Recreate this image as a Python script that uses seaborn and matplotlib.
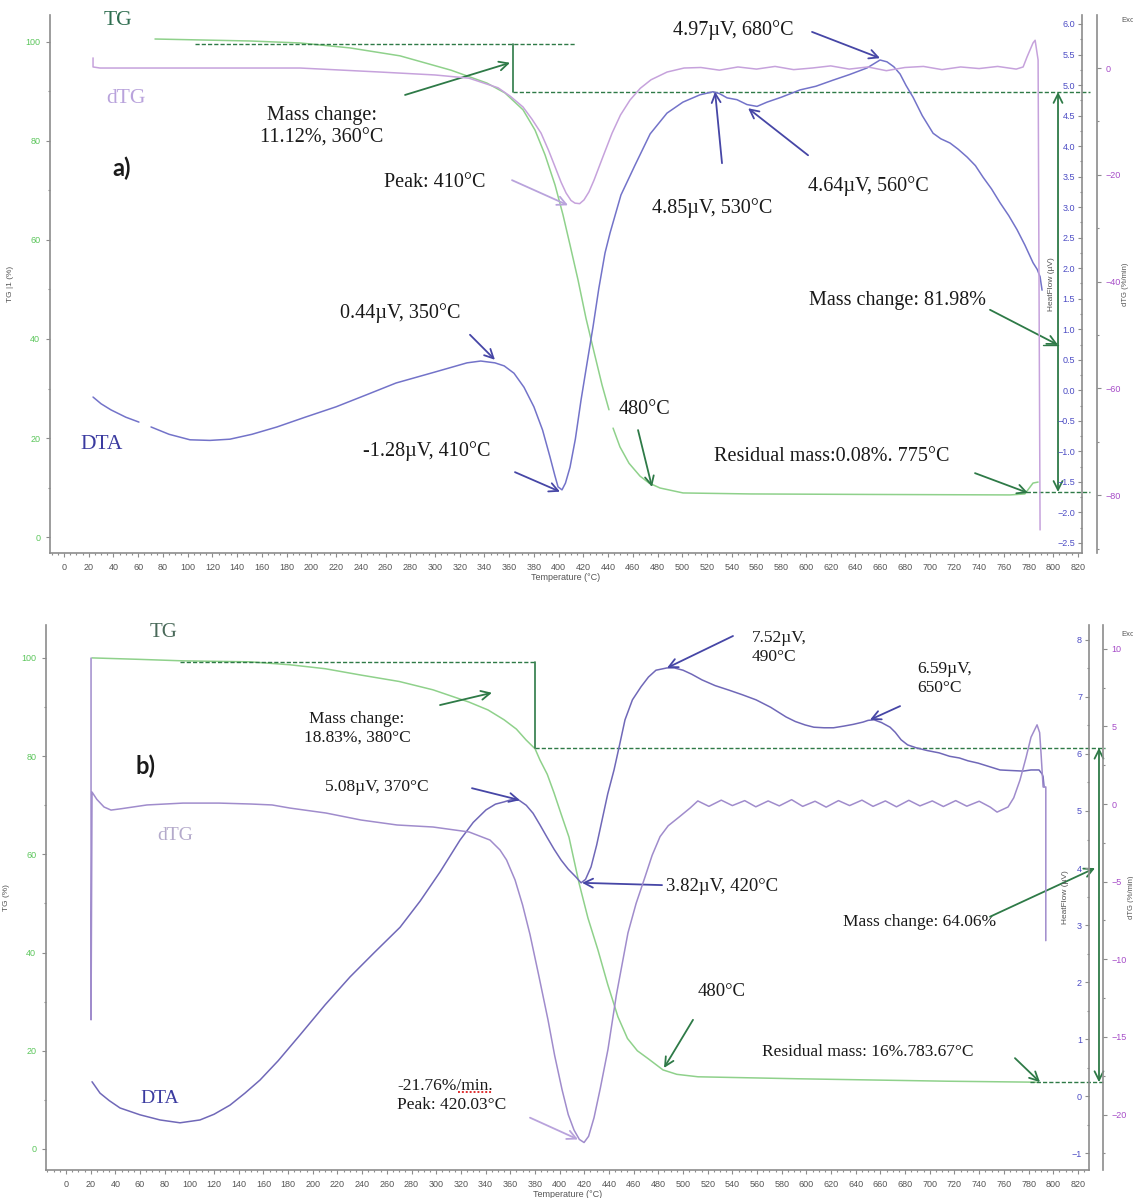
import matplotlib
matplotlib.use("Agg")
import matplotlib.pyplot as plt
from matplotlib.ticker import MultipleLocator
import seaborn as sns

sns.set_theme(style="white")
plt.rcParams["font.family"] = ["DejaVu Sans"]

SERIF = "Liberation Serif"
TICKFONT = "Liberation Sans"

# ---------------------------------------------------------------- colours
C_TG = "#8fd18b"
C_TG_TICK = "#5cc65c"
C_DTG_A = "#c6a2dc"
C_DTG_B = "#a08ccc"
C_DTA_A = "#7373c9"
C_DTA_B = "#7068b8"
C_HF_TICK = "#4c4cc4"
C_DTG_TICK = "#a64cc8"
C_ANN_G = "#2e7a47"
C_ANN_B = "#4646a6"
C_ANN_P = "#b9a3dc"
C_SPINE = "#8c8c8c"
C_TEXT = "#1a1a1a"

# ================================================================ sample a
# TG (%) vs temperature (°C); the trace has a short break near 442 °C
tg_a_T1 = [73.6, 150.4, 190.9, 231.3, 271.7, 313.0, 342.0, 356.6, 371.2, 380.9,
           389.0, 397.1, 403.5, 409.2, 415.7, 422.1, 428.6, 435.1, 440.7]
tg_a_1 = [100.6, 100.2, 99.8, 98.8, 97.2, 94.3, 91.7, 89.7, 86.3, 82.2,
          77.2, 71.1, 65.1, 59.0, 51.9, 44.2, 37.4, 30.7, 25.7]
tg_a_T2 = [444.0, 449.6, 456.9, 465.8, 473.1, 482.0, 500.6, 554.8, 650.0,
           765.0, 777.0, 783.6, 787.7]
tg_a_2 = [22.0, 18.2, 14.9, 12.3, 10.9, 9.9, 8.9, 8.7, 8.6,
          8.5, 8.7, 10.9, 11.1]

# dTG (%/min)
dtg_a_T = [23.5, 23.5, 29.1, 110.0, 190.9, 255.5, 300.0, 327.5, 351.0, 361.0,
           371.2, 378.5, 385.8, 392.0, 397.1, 402.0, 406.0, 410.0, 413.2, 417.0,
           420.5, 424.5, 428.6, 436.0, 443.2, 450.0, 457.7, 466.0, 474.7, 487.7,
           501.4, 515, 530, 545, 560, 575, 590, 605, 620, 635,
           650, 665, 680, 695, 710, 725, 740, 755, 770, 775.6,
           778.8, 783.6, 785.3, 787.7, 788.5, 789.3]
dtg_a = [1.9, 0.2, 0.0, 0.0, 0.0, -0.75, -1.3, -1.9, -3.7, -5.3,
         -7.3, -9.6, -12.2, -15.5, -18.5, -21.4, -23.4, -24.8, -25.3, -25.4,
         -24.7, -23.2, -21.0, -16.5, -12.2, -8.8, -6.0, -3.8, -2.2, -0.75,
         0.0, 0.1, -0.4, 0.2, -0.2, 0.3, -0.3, 0.0, 0.4, -0.2,
         0.2, -0.5, 0.1, 0.3, -0.3, 0.2, -0.1, 0.3, -0.2, 0.2,
         2.1, 4.7, 5.2, 1.5, -43.4, -86.5]

# DTA heat flow (µV); the trace has a short break near 65 °C
dta_a_T1 = [23.5, 30.0, 38.0, 50.0, 60.6]
dta_a_1 = [-0.11, -0.22, -0.32, -0.44, -0.52]
dta_a_T2 = [70.4, 85, 101.9, 118, 134.2, 152, 172.2, 195, 220, 245,
            268.5, 300, 325.9, 337, 348.5, 356, 363.9, 372, 380, 387,
            393, 397, 399.5, 402.7, 405.5, 409.2, 413.5, 418.1, 423, 427.8,
            432.5, 437.5, 441.6, 450.4, 461.8, 474, 487.6, 500.5, 514.3, 524.8,
            530, 536.2, 544.2, 552.3, 560.4, 568.5, 580, 595.2, 608, 621.9,
            635, 649.4, 659.9, 665.5, 671, 676.1, 681, 686.6, 694, 702.8,
            709, 716.5, 723, 730.3, 737, 743.2, 750, 757, 764, 770.7,
            777, 783.6, 787, 789.3, 790.9]
dta_a_2 = [-0.60, -0.72, -0.81, -0.82, -0.80, -0.72, -0.60, -0.44, -0.27, -0.07,
           0.12, 0.30, 0.45, 0.48, 0.45, 0.40, 0.28, 0.05, -0.27, -0.65,
           -1.09, -1.40, -1.58, -1.63, -1.52, -1.26, -0.80, -0.16, 0.45, 1.04,
           1.67, 2.25, 2.58, 3.20, 3.69, 4.20, 4.54, 4.72, 4.84, 4.89,
           4.86, 4.79, 4.76, 4.68, 4.65, 4.72, 4.80, 4.92, 4.98, 5.08,
           5.17, 5.28, 5.41, 5.38, 5.30, 5.18, 4.99, 4.80, 4.50, 4.21,
           4.12, 4.05, 3.95, 3.82, 3.68, 3.49, 3.30, 3.07, 2.86, 2.63,
           2.38, 2.09, 1.98, 1.86, 1.64]

# ================================================================ sample b
tg_b_T = [21.1, 60, 94.8, 149.1, 181.5, 210, 239.1, 270, 297.4, 326.6,
          342, 355, 365, 372.8, 380.1, 384.1, 390, 395.5, 401.5, 407.6,
          415.7, 423, 431.1, 439, 447.3, 455, 463, 471.7, 483.8, 495,
          512.2, 592.4, 714, 786.1]
tg_b = [100.0, 99.7, 99.4, 99.2, 98.6, 97.8, 96.5, 95.2, 93.5, 91.0,
        89.4, 87.4, 85.5, 83.3, 81.5, 79.2, 76.3, 72.5, 68.0, 63.5,
        54.2, 47.0, 40.5, 33.5, 26.9, 22.5, 20.0, 18.4, 16.1, 15.2,
        14.7, 14.3, 13.8, 13.6]

dtg_b_T = [20.3, 20.3, 21.1, 25, 30.8, 36.5, 45, 65.6, 94.8, 124,
           150, 167, 181.5, 210.7, 239.1, 268.3, 297.4, 326.6, 343.6, 351.7,
           357, 363.9, 370, 376, 383, 390.6, 396, 402, 407, 411.7,
           416, 419.8, 423.5, 427.9, 433, 439.2, 446, 455.4, 462, 469.2,
           475, 481.4, 488, 496.8, 505.7,
           512, 521, 531, 540, 550, 559, 569, 578, 588, 597,
           607, 616, 626, 635, 645, 654, 664, 673, 683, 692,
           702, 711, 721, 730, 740, 749,
           754.5, 763.4, 768, 773.1, 778, 782, 786.9, 789, 790.1, 791.8,
           794, 794]
dtg_b = [9.4, -13.9, 0.77, 0.3, -0.19, -0.39, -0.3, -0.06, 0.06, 0.06,
         0.0, -0.06, -0.26, -0.58, -1.03, -1.35, -1.48, -1.80, -2.32, -2.96,
         -3.6, -4.89, -6.5, -8.4, -11.0, -13.9, -16.2, -18.4, -20.0, -21.0,
         -21.6, -21.8, -21.4, -20.2, -18.3, -15.8, -12.3, -8.3, -6.4, -4.7,
         -3.3, -2.1, -1.4, -0.84, -0.26,
         0.20, -0.15, 0.25, -0.10, 0.22, -0.18, 0.20, -0.12, 0.28, -0.15,
         0.18, -0.20, 0.22, -0.10, 0.25, -0.15, 0.20, -0.18, 0.24, -0.12,
         0.20, -0.16, 0.22, -0.14, 0.18, -0.20,
         -0.52, -0.19, 0.4, 1.55, 3.0, 4.3, 5.1, 4.6, 3.3, 1.1,
         1.1, -8.8]

dta_b_T = [21.1, 27.6, 35, 43.8, 60, 76.2, 92.4, 108.6, 120, 132.9,
           145, 157.2, 172, 189.6, 210, 230.2, 250, 270.7, 287, 303.1,
           319.3, 330, 340.4, 348, 355, 361, 367.1, 373, 378.5, 384,
           389.8, 395.5, 401.2, 407, 413.3, 417.4, 421, 425.5, 430, 434.4,
           439, 444.1, 448.5, 453, 459, 466, 472, 478.1, 487, 493,
           500, 507, 515.4, 526, 537.3, 548, 559.2, 571, 583.5, 591,
           598.9, 606, 614.3, 622, 630.5, 638, 645.9, 650, 654.8, 661,
           667.8, 672, 676.7, 682, 688.8, 698, 707.5, 716, 724, 731,
           739.1, 748, 756.9, 766, 775.6, 782, 788.5, 791, 791.8, 792.6]
dta_b = [0.25, 0.05, -0.08, -0.21, -0.33, -0.42, -0.47, -0.42, -0.32, -0.16,
         0.05, 0.28, 0.62, 1.07, 1.60, 2.09, 2.52, 2.96, 3.42, 3.93,
         4.49, 4.80, 5.02, 5.12, 5.16, 5.20, 5.19, 5.10, 4.96, 4.76,
         4.54, 4.33, 4.14, 3.98, 3.84, 3.74, 3.80, 4.02, 4.40, 4.84,
         5.30, 5.72, 6.15, 6.60, 6.95, 7.18, 7.35, 7.47, 7.51, 7.51,
         7.47, 7.40, 7.30, 7.20, 7.12, 7.04, 6.95, 6.82, 6.65, 6.57,
         6.51, 6.47, 6.46, 6.46, 6.49, 6.52, 6.56, 6.59, 6.60, 6.55,
         6.47, 6.38, 6.25, 6.16, 6.11, 6.06, 6.02, 5.96, 5.93, 5.88,
         5.84, 5.78, 5.72, 5.71, 5.70, 5.72, 5.72, 5.65, 5.60, 5.42]

# tick labels
temp_ticks = list(range(0, 821, 20))

W, H = 1133, 1198
fig = plt.figure(figsize=(W / 100, H / 100), dpi=100)
fig.patch.set_facecolor("white")


def rect(l, t, r, b):
    return [l / W, 1 - b / H, (r - l) / W, (b - t) / H]


def build_axes(box_px, xlim, tg_lim, hf_lim, dtg_lim, hf_major, hf_minor,
               dtg_major, dtg_minor, dtg_gap_px, tg_label):
    l, t, r, b = box_px
    ax = fig.add_axes(rect(l, t, r, b))
    ax.set_facecolor("white")
    for s in ("top", "right"):
        ax.spines[s].set_visible(False)
    for s in ("left", "bottom"):
        ax.spines[s].set_color(C_SPINE)
        ax.spines[s].set_linewidth(1.2)

    hf = ax.twinx()
    dtg = ax.twinx()
    for s in ("top", "bottom", "right"):
        hf.spines[s].set_visible(False)
    hf.spines["left"].set_visible(True)
    hf.spines["left"].set_position(("axes", 1.0))
    hf.spines["left"].set_color(C_SPINE)
    hf.spines["left"].set_linewidth(1.2)
    hf.yaxis.tick_left()
    hf.yaxis.set_label_position("left")

    for s in ("top", "bottom", "left"):
        dtg.spines[s].set_visible(False)
    dtg.spines["right"].set_position(("axes", 1.0 + dtg_gap_px / (r - l)))
    dtg.spines["right"].set_color(C_SPINE)
    dtg.spines["right"].set_linewidth(1.2)

    return ax, hf, dtg, (xlim, tg_lim, hf_lim, dtg_lim, hf_major, hf_minor,
                         dtg_major, dtg_minor, tg_label)


def style_axes(ax, hf, dtg, cfg):
    (xlim, tg_lim, hf_lim, dtg_lim, hf_major, hf_minor,
     dtg_major, dtg_minor, tg_label) = cfg
    ax.set_xlim(*xlim)
    ax.set_ylim(*tg_lim)
    hf.set_ylim(*hf_lim)
    dtg.set_ylim(*dtg_lim)

    ax.set_xticks(temp_ticks)
    ax.xaxis.set_minor_locator(MultipleLocator(5))
    ax.yaxis.set_major_locator(MultipleLocator(20))
    ax.yaxis.set_minor_locator(MultipleLocator(10))
    ax.tick_params(axis="x", which="both", bottom=True, direction="out",
                   color=C_SPINE, labelcolor="#555555", labelsize=6.5,
                   length=3, width=0.8, pad=4)
    ax.tick_params(axis="x", which="minor", length=1.5)
    ax.tick_params(axis="y", which="both", left=True, direction="out",
                   color=C_SPINE, labelcolor=C_TG_TICK, labelsize=6.5,
                   length=3, width=0.8, pad=4)
    ax.tick_params(axis="y", which="minor", length=1.5)

    hf.yaxis.set_major_locator(MultipleLocator(hf_major))
    hf.yaxis.set_minor_locator(MultipleLocator(hf_minor))
    hf.tick_params(axis="y", which="both", left=True, right=False,
                   labelleft=True, labelright=False, direction="out",
                   color=C_SPINE, labelcolor=C_HF_TICK, labelsize=6.5,
                   length=3, width=0.8, pad=2)
    hf.tick_params(axis="y", which="minor", length=1.5)

    dtg.yaxis.set_major_locator(MultipleLocator(dtg_major))
    dtg.yaxis.set_minor_locator(MultipleLocator(dtg_minor))
    dtg.tick_params(axis="y", which="both", right=True, left=False,
                    labelright=True, labelleft=False, direction="out",
                    color=C_SPINE, labelcolor=C_DTG_TICK, labelsize=6.5,
                    length=3, width=0.8, pad=3)
    dtg.tick_params(axis="y", which="minor", length=1.5)

    for a in (ax, hf, dtg):
        for lab in a.get_xticklabels() + a.get_yticklabels():
            lab.set_fontfamily(TICKFONT)

    ax.set_xlabel("Temperature (°C)", fontsize=6.5, color="#555555",
                  labelpad=1, fontfamily=TICKFONT)
    ax.set_ylabel(tg_label, fontsize=6, color="#555555", labelpad=8,
                  fontfamily=TICKFONT)
    hf.set_ylabel("HeatFlow (µV)", fontsize=6, color="#555555", labelpad=2,
                  fontfamily=TICKFONT)
    dtg.set_ylabel("dTG (%/min)", fontsize=5.5, color="#555555", labelpad=1,
                   fontfamily=TICKFONT)


def line(a, xs, ys, color, lw=1.1, ls="-"):
    sns.lineplot(x=xs, y=ys, ax=a, color=color, linewidth=lw, linestyle=ls,
                 sort=False, estimator=None, legend=False)


def arrow(a, tail, tip, color, style="->", lw=1.3, ms=16):
    a.annotate("", xy=tip, xytext=tail, xycoords="data", textcoords="data",
               annotation_clip=False,
               arrowprops=dict(arrowstyle=style, color=color, lw=lw,
                               mutation_scale=ms, shrinkA=0, shrinkB=0))


def note(a, x, y, s, color=C_TEXT, size=14.5, ha="center", family=SERIF,
         weight="normal"):
    a.text(x, y, s, color=color, fontsize=size, ha=ha, va="center",
           fontfamily=family, fontweight=weight, linespacing=1.25,
           clip_on=False)


def hdash(a, y, x0, x1, color=C_ANN_G):
    a.plot([x0, x1], [y, y], color=color, lw=1.0, ls=(0, (3, 1.5)),
           clip_on=False)


# ================================================================ panel a
ax, hf, dtg, cfg = build_axes((50, 15, 1082, 553), (-11.3, 823.2),
                              (-3.23, 105.45), (-2.664, 6.147), (-90.82, 9.93),
                              0.5, 0.25, 20, 10, 15, "TG |1 (%)")
line(ax, tg_a_T1, tg_a_1, C_TG)
line(ax, tg_a_T2, tg_a_2, C_TG)
line(hf, dta_a_T1, dta_a_1, C_DTA_A)
line(hf, dta_a_T2, dta_a_2, C_DTA_A)
line(dtg, dtg_a_T, dtg_a, C_DTG_A)
style_axes(ax, hf, dtg, cfg)

# mass-loss construction (TG axis)
hdash(ax, 99.6, 105.9, 413.3)
ax.plot([363.1, 363.1], [99.6, 89.9], color=C_ANN_G, lw=1.2)
hdash(ax, 89.9, 363.1, 829.7)
hdash(ax, 9.1, 773.1, 829.7)
arrow(ax, (275.8, 89.3), (360.7, 95.8), C_ANN_G)
note(ax, 208.6, 82.8, "Mass change:\n11.12%, 360°C")
arrow(ax, (803.8, 89.9), (803.8, 9.1), C_ANN_G, style="<->")
note(ax, 674.4, 47.7, "Mass change: 81.98%")
arrow(ax, (748.8, 45.9), (803.8, 38.8), C_ANN_G)
ax.plot([791.7, 803.8], [38.8, 38.8], color=C_ANN_G, lw=1.0)
note(ax, 469.8, 25.7, "480°C")
arrow(ax, (464.2, 21.6), (475.5, 10.1), C_ANN_G)
note(ax, 621.1, 16.2, "Residual mass:0.08%. 775°C")
arrow(ax, (736.7, 12.9), (779.6, 8.9), C_ANN_G)
note(ax, 43.7, 104.4, "TG", color="#2f6e50", size=15.5)
note(ax, 46.9, 74.5, "a)", family="Lato", weight="bold", size=17)

# DTA peaks (heat-flow axis)
note(hf, 271.7, 1.27, "0.44µV, 350°C")
arrow(hf, (328.3, 0.91), (348.5, 0.50), C_ANN_B)
note(hf, 293.5, -0.99, "-1.28µV, 410°C")
arrow(hf, (364.7, -1.34), (401.1, -1.66), C_ANN_B)
note(hf, 524.0, 2.99, "4.85µV, 530°C")
arrow(hf, (532.1, 3.72), (526.5, 4.89), C_ANN_B)
note(hf, 650.2, 3.35, "4.64µV, 560°C")
arrow(hf, (601.7, 3.85), (553.2, 4.62), C_ANN_B)
note(hf, 541.0, 5.90, "4.97µV, 680°C")
arrow(hf, (604.9, 5.87), (659.9, 5.44), C_ANN_B)
note(hf, 30.7, -0.88, "DTA", color="#3b3ba0", size=15.5)

# dTG peak
note(dtg, 300.0, -21.5, "Peak: 410°C")
arrow(dtg, (362.3, -21.0), (407.6, -25.7), C_ANN_P)
note(dtg, 50.1, -5.8, "dTG", color="#b9a3dc", size=15.5)

fig.text(1128 / W, 1 - 21 / H, "Exo", fontsize=5.5, color="#555555",
         ha="center", va="center", fontfamily=TICKFONT)

# ================================================================ panel b
ax, hf, dtg, cfg = build_axes((46, 625, 1089, 1170), (-16.2, 829.0),
                              (-4.28, 106.7), (-1.298, 8.263), (-23.57, 11.53),
                              1, 0.5, 5, 2.5, 14, "TG (%)")
line(ax, tg_b_T, tg_b, C_TG)
line(hf, dta_b_T, dta_b, C_DTA_B)
line(dtg, dtg_b_T, dtg_b, C_DTG_B)
style_axes(ax, hf, dtg, cfg)

hdash(ax, 99.2, 92.4, 380.1)
ax.plot([380.1, 380.1], [99.2, 81.7], color=C_ANN_G, lw=1.2)
hdash(ax, 81.7, 380.1, 842.0)
hdash(ax, 13.6, 781.2, 842.0)
arrow(ax, (303.1, 90.4), (345.2, 92.9), C_ANN_G)
note(ax, 235.8, 85.7, "Mass change:\n18.83%, 380°C", size=12.5)
arrow(ax, (837.1, 81.7), (837.1, 13.6), C_ANN_G, style="<->")
note(ax, 692.1, 46.2, "Mass change: 64.06%", size=12.5)
arrow(ax, (748.8, 47.3), (833.9, 57.2), C_ANN_G)
note(ax, 531.6, 32.0, "480°C", size=13.5)
arrow(ax, (508.1, 26.3), (484.6, 16.5), C_ANN_G)
note(ax, 649.9, 19.8, "Residual mass: 16%.783.67°C", size=12.5)
arrow(ax, (769.0, 18.5), (789.3, 13.6), C_ANN_G)
note(ax, 79.4, 105.1, "TG", color="#4a6a5a", size=15)
note(ax, 64.8, 78.0, "b)", family="Lato", weight="bold", size=17)

note(hf, 252.0, 5.42, "5.08µV, 370°C", size=12.5)
arrow(hf, (329.0, 5.40), (367.9, 5.19), C_ANN_B)
note(hf, 531.6, 3.68, "3.82µV, 420°C", size=13.5)
arrow(hf, (483.0, 3.70), (418.2, 3.74), C_ANN_B)
note(hf, 555.9, 7.86, "7.52µV,\n490°C", ha="left", size=12.5)
arrow(hf, (540.5, 8.07), (487.0, 7.51), C_ANN_B)
note(hf, 689.6, 7.33, "6.59µV,\n650°C", ha="left", size=12.5)
arrow(hf, (675.9, 6.84), (651.5, 6.60), C_ANN_B)
note(hf, 76.2, -0.04, "DTA", color="#3b3ba0", size=14)

note(dtg, 268.2, -18.8, "-21.76%/min.\nPeak: 420.03°C", ha="left", size=12.5)
# spell-check squiggle under "min."
dtg.plot([318.0, 345.0], [-18.55, -18.55], color="#e03030", lw=1.4,
         ls=(0, (1, 1)))
arrow(dtg, (376.0, -20.2), (414.9, -21.6), C_ANN_P)
note(dtg, 88.3, -2.0, "dTG", color="#b4aacb", size=14)

fig.text(1128 / W, 1 - 634 / H, "Exo", fontsize=5.5, color="#555555",
         ha="center", va="center", fontfamily=TICKFONT)

fig.savefig("out.png", dpi=100, facecolor="white")
